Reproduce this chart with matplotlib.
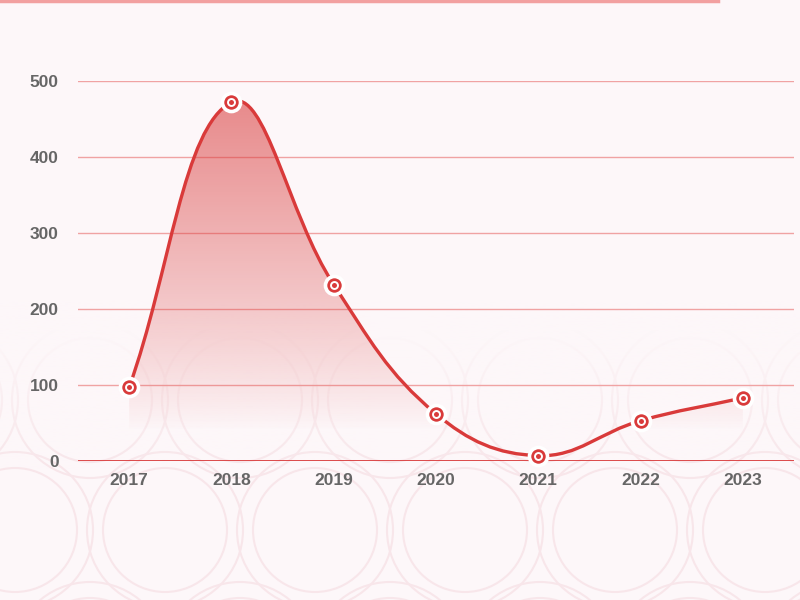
import matplotlib.pyplot as plt
import numpy as np
from matplotlib.path import Path
from matplotlib.patches import PathPatch, Circle
from matplotlib.lines import Line2D

years = ["2017", "2018", "2019", "2020", "2021", "2022", "2023"]
values = [97, 472, 232, 62, 7, 53, 83]
y_ticks = [0, 100, 200, 300, 400, 500]

bg = "#fdf7f9"
red = "#d93a3a"
grid_col = "#f0a3a3"
txt_col = "#666666"

plt.rcParams['font.family'] = ['Liberation Sans', 'DejaVu Sans']

fig = plt.figure(figsize=(8, 6), dpi=100, facecolor=bg)

# faint decorative pattern in the lower part of the background
bg_ax = fig.add_axes([0, 0, 1, 1])
bg_ax.axis("off")
for cx in range(-60, 900, 150):
    for cy, off in [(400, 0), (530, 75), (660, 0)]:
        for r in (62, 78):
            bg_ax.add_patch(Circle((cx + off, cy), r, fill=False, ec="#f8e6ea", lw=1.5))
# fade the pattern out towards the top
fade = np.zeros((256, 1, 4))
fade[:, 0, :3] = np.array([0xfd, 0xf7, 0xf9]) / 255
fade[:, 0, 3] = np.clip((np.linspace(300, 600, 256) - 470) / (330 - 470), 0, 1)
bg_ax.imshow(fade, extent=[0, 800, 600, 300], origin="upper", aspect="auto", zorder=5)
bg_ax.imshow(np.ones((1, 1, 4)) * np.array([0xfd / 255, 0xf7 / 255, 0xf9 / 255, 1]),
             extent=[0, 800, 300, 0], aspect="auto", zorder=5)
bg_ax.set_xlim(0, 800)
bg_ax.set_ylim(600, 0)

ax = fig.add_axes([0.0975, 0.2317, 0.895, 0.6333])
ax.set_facecolor("none")

# top decorative strip
fig.add_artist(Line2D([0, 0.898], [0.999, 0.999], color="#f2a0a0", lw=2.5))

# pixel scale used for the smoothing (chart.js-like bezier, tension 0.4)
sx = 102.3
sy = 380 / 500
px = np.arange(len(values)) * sx
py = np.array(values) * sy
tension = 0.4

verts = [(px[0], py[0])]
codes = [Path.MOVETO]
n = len(values)
cps_out = []
cps_in = []
for i in range(n):
    pi = max(i - 1, 0)
    ni = min(i + 1, n - 1)
    vx = px[ni] - px[pi]
    vy = py[ni] - py[pi]
    l0 = np.hypot(px[i] - px[pi], py[i] - py[pi])
    l1 = np.hypot(px[ni] - px[i], py[ni] - py[i])
    r = l1 / (l0 + l1) if (l0 + l1) > 0 else 0.5
    cps_out.append((px[i] + vx * tension * r, py[i] + vy * tension * r))
    cps_in.append((px[i] - vx * tension * (1 - r), py[i] - vy * tension * (1 - r)))
for i in range(n - 1):
    verts += [cps_out[i], cps_in[i + 1], (px[i + 1], py[i + 1])]
    codes += [Path.CURVE4] * 3

# back to data coordinates
verts = [(x / sx, y / sy) for x, y in verts]
curve = Path(verts, codes)

# gradient area under the curve
fill_verts = verts + [(n - 1, 0), (0, 0), verts[0]]
fill_codes = codes + [Path.LINETO, Path.LINETO, Path.CLOSEPOLY]
fill_path = Path(fill_verts, fill_codes)
grad = np.zeros((256, 1, 4))
rgb = np.array([0.85, 0.23, 0.23])
t = np.linspace(0, 1, 256)  # 0 bottom, 1 top
grad[:, 0, :3] = rgb
grad[:, 0, 3] = np.clip((t * 480 - 40) / (480 - 40), 0, 1) ** 0.85 * 0.58
im = ax.imshow(grad, extent=[-0.5, 6.5, 0, 480], origin="lower", aspect="auto", zorder=1)
patch = PathPatch(fill_path, facecolor="none", edgecolor="none")
ax.add_patch(patch)
im.set_clip_path(patch)

ax.add_patch(PathPatch(curve, facecolor="none", edgecolor=red, lw=2.4, zorder=3,
                       capstyle="round", joinstyle="round", clip_on=False))

# markers
xs = np.arange(n)
ax.plot(xs, values, "o", ms=13, mfc=red, mec="white", mew=2.6, zorder=4, clip_on=False)
ax.plot(xs, values, "o", ms=5, mfc="none", mec="white", mew=1.4, zorder=5, clip_on=False)

# grid + axis
for v in y_ticks[1:]:
    ax.axhline(v, color=grid_col, lw=1, zorder=0)
ax.axhline(0, color=red, lw=2, zorder=2)

ax.set_xlim(-0.5, 6.5)
ax.set_ylim(0, 500)
ax.set_xticks(xs)
ax.set_xticklabels(years)
ax.set_yticks(y_ticks)
ax.tick_params(length=0, labelsize=12.5, labelcolor=txt_col)
ax.tick_params(axis="x", pad=9)
ax.tick_params(axis="y", pad=14)
for lab in ax.get_xticklabels() + ax.get_yticklabels():
    lab.set_fontweight("bold")
for s in ax.spines.values():
    s.set_visible(False)

fig.savefig("out.png", dpi=100, facecolor=bg)
